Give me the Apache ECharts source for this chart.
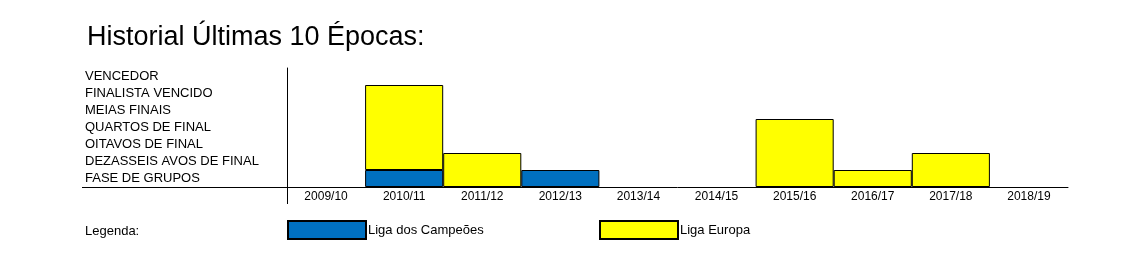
<!DOCTYPE html>
<html>
<head>
<meta charset="utf-8">
<script src="https://cdn.jsdelivr.net/npm/echarts@6/dist/echarts.min.js"></script>
<style>html,body{margin:0;padding:0;background:#fff;}#c{width:1146px;height:256px;}</style>
</head>
<body>
<div id="c"></div>
<script>
const seasons = ['2009/10','2010/11','2011/12','2012/13','2013/14','2014/15','2015/16','2016/17','2017/18','2018/19'];
const stages = ['FASE DE GRUPOS','DEZASSEIS AVOS DE FINAL','OITAVOS DE FINAL','QUARTOS DE FINAL','MEIAS FINAIS','FINALISTA VENCIDO','VENCEDOR'];
// stacked stage counts per competition
const ligaCampeoes = [null, 1, null, 1, null, null, null, null, null, null];
const ligaEuropa  = [null, 5, 2, null, null, null, 4, 1, 2, null];
const seriesNames = ['Liga dos Campeões', 'Liga Europa'];

const chart = echarts.init(document.getElementById('c'), null, {renderer: 'canvas'});
const font = '"Liberation Sans", Arial, sans-serif';
chart.setOption({
  animation: false,
  backgroundColor: '#fff',
  title: [
    {text: 'Historial Últimas 10 Épocas:', left: 87, top: 24, padding: 0,
     textStyle: {fontFamily: font, fontSize: 27, fontWeight: 'normal', color: '#000'}},
    {text: 'Legenda:', left: 85, top: 225, padding: 0,
     textStyle: {fontFamily: font, fontSize: 13, fontWeight: 'normal', color: '#000'}}
  ],
  legend: [
    {data: [seriesNames[0]], left: 287, top: 220, padding: 0, icon: 'rect', itemWidth: 78, itemHeight: 18, itemGap: 0,
     textStyle: {fontFamily: font, fontSize: 13, color: '#000', padding: [2,0,0,-3]}},
    {data: [seriesNames[1]], left: 599, top: 220, padding: 0, icon: 'rect', itemWidth: 78, itemHeight: 18, itemGap: 0,
     textStyle: {fontFamily: font, fontSize: 13, color: '#000', padding: [2,0,0,-3]}}
  ],
  grid: {left: 287, right: 78, top: 68, bottom: 69, containLabel: false},
  xAxis: {
    type: 'category', data: seasons, boundaryGap: true,
    axisLine: {show: true, lineStyle: {color: '#000', width: 1}},
    axisTick: {show: false},
    axisLabel: {fontFamily: font, fontSize: 12, color: '#000', margin: 4, interval: 0}
  },
  yAxis: [
    {type: 'value', min: 0, max: 7, interval: 1,
     axisLine: {show: true, lineStyle: {color: '#000', width: 1}},
     axisTick: {show: false}, axisLabel: {show: false}, splitLine: {show: false}},
    {type: 'category', data: stages, position: 'left', boundaryGap: true,
     axisLine: {show: false}, axisTick: {show: false}, splitLine: {show: false},
     axisLabel: {fontFamily: font, fontSize: 13, color: '#000', align: 'left', margin: 202, interval: 0, padding: [2,0,0,0]}}
  ],
  graphic: [
    {type: 'line', shape: {x1: 82, y1: 187.5, x2: 287, y2: 187.5}, style: {stroke: '#000', lineWidth: 1}, silent: true},
    {type: 'line', shape: {x1: 287.5, y1: 187, x2: 287.5, y2: 204}, style: {stroke: '#000', lineWidth: 1}, silent: true}
  ],
  series: [
    {name: seriesNames[0], type: 'bar', stack: 's', data: ligaCampeoes, barWidth: '100%', barCategoryGap: 0,
     itemStyle: {color: '#0070C0', borderColor: '#000', borderWidth: 1}},
    {name: seriesNames[1], type: 'bar', stack: 's', data: ligaEuropa, barWidth: '100%', barCategoryGap: 0,
     itemStyle: {color: '#FFFF00', borderColor: '#000', borderWidth: 1}}
  ]
});
</script>
</body>
</html>
